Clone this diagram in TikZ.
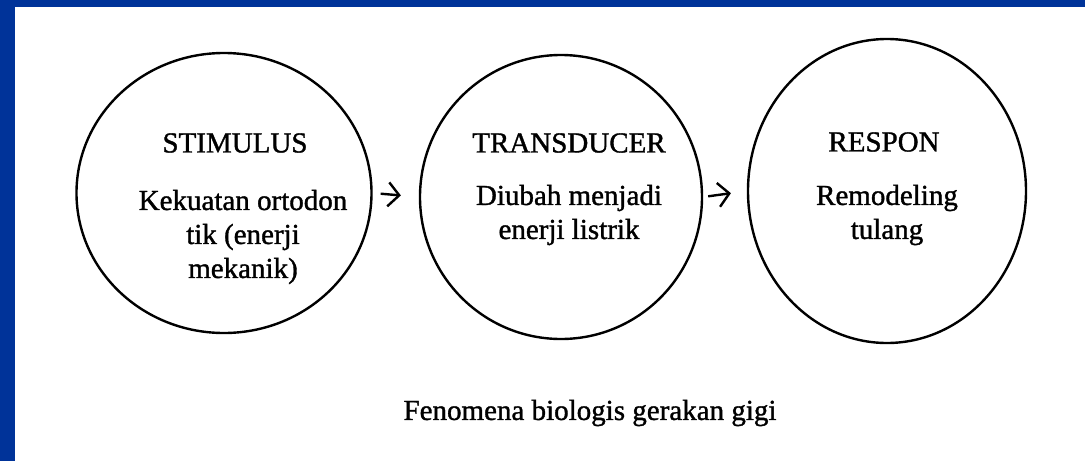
\documentclass[tikz,border=0pt]{standalone}
\usepackage{fontspec}
\setmainfont{Liberation Serif}[FakeBold=1.2]
\usetikzlibrary{shapes.geometric,arrows.meta}
\definecolor{frameblue}{RGB}{0,51,153}
\begin{document}
\begin{tikzpicture}[x=1pt,y=-1pt,
  bubble/.style={draw, ellipse, line width=2.4pt, inner sep=0pt},
  head/.style={font=\fontsize{29}{33}\selectfont, anchor=center, inner sep=0pt},
  body/.style={font=\fontsize{29}{34}\selectfont, align=center, anchor=center, inner sep=0pt},
  caption/.style={font=\fontsize{29}{33}\selectfont, anchor=center, inner sep=0pt},
  link/.style={-{Straight Barb[length=11pt,width=24pt,line width=2.4pt]}, line width=2.4pt}]
\useasboundingbox (0,0) rectangle (1085,461);
\fill[frameblue] (0,0) rectangle (1085,7);
\fill[frameblue] (0,0) rectangle (15,461);
\node[bubble, minimum width=295pt, minimum height=280pt] (c1) at (224,193) {};
\node[bubble, minimum width=282pt, minimum height=284pt] (c2) at (561,197) {};
\node[bubble, minimum width=278pt, minimum height=304pt] (c3) at (887,191) {};
\node[head] (h1) at (235,143) {STIMULUS};
\node[head] (h2) at (569,143) {TRANSDUCER};
\node[head] (h3) at (884,142) {RESPON};
\node[body] (b1) at (243,237) {Kekuatan ortodon\\tik (enerji\\mekanik)};
\node[body] (b2) at (569,215) {Diubah menjadi\\enerji listrik};
\node[body] (b3) at (887,215) {Remodeling\\tulang};
\node[caption] (cap) at (590,413) {Fenomena biologis gerakan gigi};
\draw[link, shorten <=8pt, shorten >=18pt] (c1.east) -- (c2.west);
\draw[link, shorten <=5pt, shorten >=16pt] (c2.east) -- (c3.west);
\end{tikzpicture}
\end{document}
